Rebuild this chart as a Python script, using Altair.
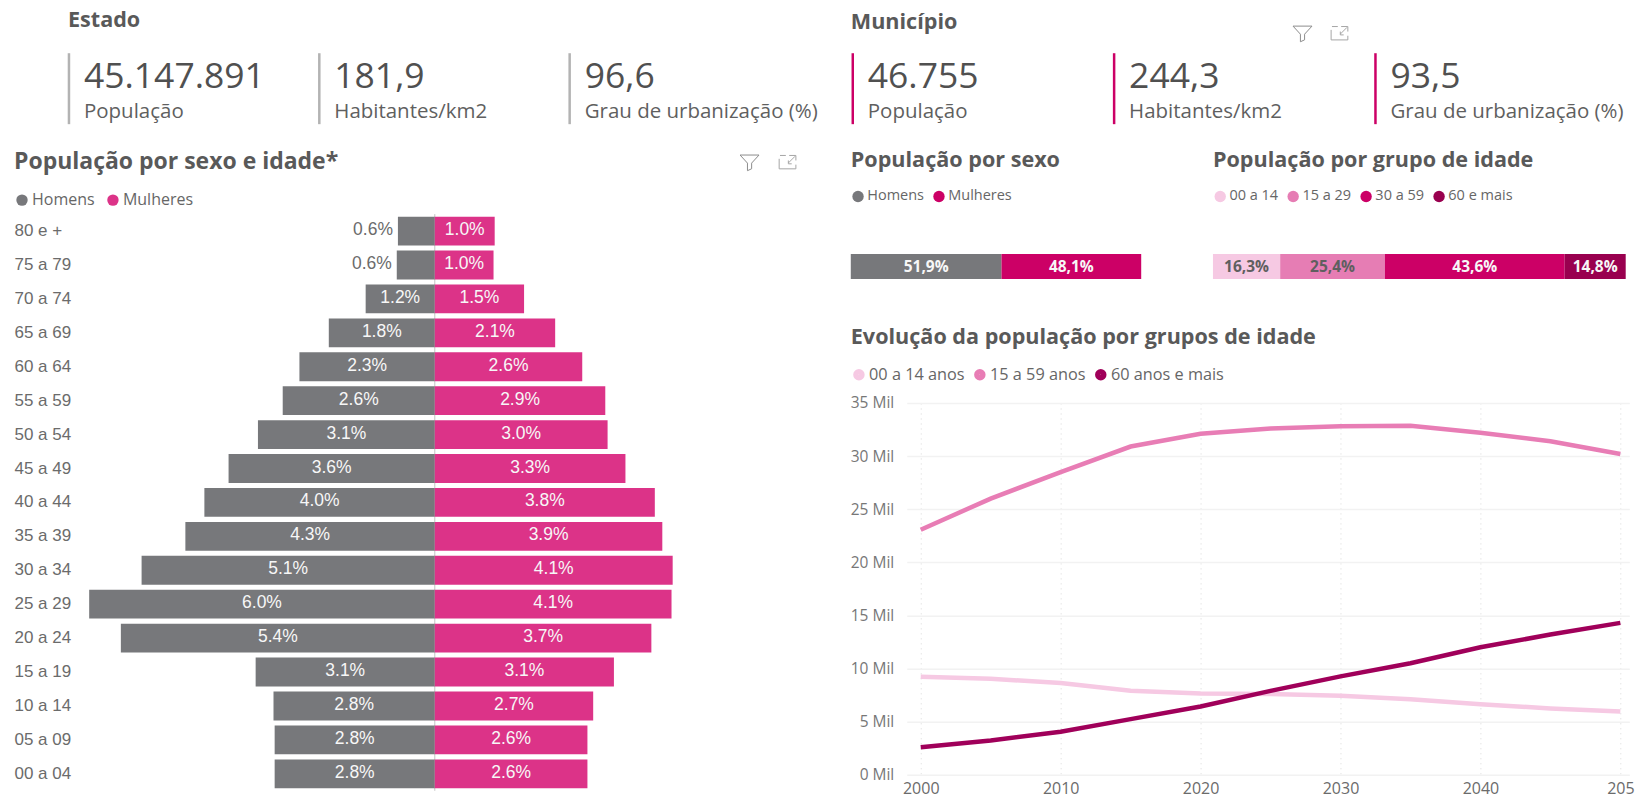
import altair as alt
import pandas as pd

FONT = "Open Sans"
ARIAL = "Liberation Sans"
TXT = "#595959"
GRAY = "#77787b"
PINK = "#dc3388"
MAG = "#cc0066"

est_rotulos = ["População", "Habitantes/km2", "Grau de urbanização (%)"]
est_valores = ["45.147.891", "181,9", "96,6"]
mun_valores = ["46.755", "244,3", "93,5"]

faixas = ["80 e +", "75 a 79", "70 a 74", "65 a 69", "60 a 64", "55 a 59", "50 a 54", "45 a 49", "40 a 44",
          "35 a 39", "30 a 34", "25 a 29", "20 a 24", "15 a 19", "10 a 14", "05 a 09", "00 a 04"]
homens = [0.64, 0.66, 1.20, 1.84, 2.35, 2.64, 3.07, 3.58, 4.00, 4.33, 5.09, 6.00, 5.45, 3.11, 2.80, 2.78, 2.78]
mulheres = [1.04, 1.02, 1.55, 2.09, 2.56, 2.96, 3.00, 3.31, 3.82, 3.95, 4.13, 4.11, 3.76, 3.11, 2.75, 2.65, 2.65]
homens_rot = ["0.6%", "0.6%", "1.2%", "1.8%", "2.3%", "2.6%", "3.1%", "3.6%", "4.0%", "4.3%", "5.1%", "6.0%", "5.4%", "3.1%", "2.8%", "2.8%", "2.8%"]
mulheres_rot = ["1.0%", "1.0%", "1.5%", "2.1%", "2.6%", "2.9%", "3.0%", "3.3%", "3.8%", "3.9%", "4.1%", "4.1%", "3.7%", "3.1%", "2.7%", "2.6%", "2.6%"]

sexo_grupos = ["Homens", "Mulheres"]
sexo_pct = [51.9, 48.1]
sexo_rot = ["51,9%", "48,1%"]
idade_grupos = ["00 a 14", "15 a 29", "30 a 59", "60 e mais"]
idade_pct = [16.3, 25.4, 43.6, 14.8]
idade_rot = ["16,3%", "25,4%", "43,6%", "14,8%"]

anos = [2000, 2005, 2010, 2015, 2020, 2025, 2030, 2035, 2040, 2045, 2050]
s_00_14 = [9.23, 9.04, 8.63, 7.90, 7.66, 7.60, 7.44, 7.12, 6.65, 6.25, 5.96]
s_15_59 = [23.07, 26.0, 28.5, 30.9, 32.1, 32.6, 32.8, 32.86, 32.2, 31.4, 30.2]
s_60 = [2.60, 3.23, 4.05, 5.24, 6.43, 7.90, 9.26, 10.5, 12.0, 13.2, 14.3]
serie_nomes = ["00 a 14 anos", "15 a 59 anos", "60 anos e mais"]


def section_title(text, dx=0, offset=10, size=21.6):
    return alt.TitleParams(text=text, anchor="start", frame="group", dx=dx, offset=offset, font=FONT,
                           fontSize=size, fontWeight="bold", color=TXT)


def legend(x, y, size=15, gap=8, **kw):
    opts = dict(symbolSize=130, symbolStrokeWidth=0)
    opts.update(kw)
    return alt.Legend(title=None, orient="none", legendX=x, legendY=y, direction="horizontal", symbolType="circle",
                      labelFont=FONT, labelFontSize=size, labelColor="#666666",
                      labelOffset=2, columnPadding=gap, padding=0, symbolOpacity=1, **opts)


def kpi(valores, cor, titulo, inicio, fim, largura, tdx, offset):
    df = pd.DataFrame({"rotulo": est_rotulos, "valor": valores})
    base = alt.Chart(df).encode(
        x=alt.X("rotulo:N", sort=None, axis=None,
                scale=alt.Scale(type="point", domain=est_rotulos, range=[inicio, fim], padding=0)))
    rule = base.mark_rule(color=cor, strokeWidth=2.5).encode(y=alt.value(0), y2=alt.value(71))
    val = base.mark_text(align="left", baseline="middle", dx=15, font=FONT, fontSize=35.5, color="#505050").encode(
        y=alt.value(24), text="valor:N")
    lab = base.mark_text(align="left", baseline="middle", dx=15, font=FONT, fontSize=20.5, color="#5f5f5f").encode(
        y=alt.value(59), text="rotulo:N")
    return alt.layer(rule, val, lab).properties(width=largura, height=71, title=section_title(titulo, dx=tdx, offset=offset))


FUNIL = "M-1,-0.75 L1,-0.75 L0.22,0.1 L0.22,0.7 L-0.22,0.9 L-0.22,0.1 Z"
EXPANDE = "M-1,-0.4 L-1,0.8 L1,0.8 L1,0.3 M-0.9,-0.8 L-0.2,-0.8 M0.2,-0.8 L1,-0.8 L1,-0.2 M0.9,-0.7 L0.1,0.1 M0.1,-0.2 L0.1,0.2 L0.5,0.2"


def icons(x1, x2, y):
    d = pd.DataFrame({"k": [0]})
    a = alt.Chart(d).mark_point(shape=FUNIL, filled=False, size=360, color="#8c8c8c", strokeWidth=1, opacity=1).encode(
        x=alt.value(x1), y=alt.value(y))
    b = alt.Chart(d).mark_point(shape=EXPANDE, filled=False, size=280, color="#a6a6a6", strokeWidth=1, opacity=1).encode(
        x=alt.value(x2), y=alt.value(y))
    return [a, b]


# Pyramid
pir = pd.DataFrame({
    "faixa": faixas * 2,
    "sexo": ["Homens"] * 17 + ["Mulheres"] * 17,
    "valor": [-v for v in homens] + mulheres,
    "rotulo": homens_rot + mulheres_rot,
})
pir["meio"] = pir["valor"] / 2
xs = alt.Scale(domain=[-6.351, 4.25], nice=False, zero=False)
ys = alt.Y("faixa:N", sort=faixas, title=None,
           scale=alt.Scale(paddingInner=0.15, paddingOuter=0.075),
           axis=alt.Axis(domain=False, ticks=False, grid=False, labelAlign="left", labelPadding=55, labelFont=ARIAL,
                         labelFontSize=17, labelColor="#6b6b6b"))
pir_base = alt.Chart(pir).encode(y=ys)
pir_rule = alt.Chart(pd.DataFrame({"z": [0]})).mark_rule(color="#c4c4c4", strokeWidth=1).encode(x=alt.X("z:Q", scale=xs, axis=None))
pir_bar = pir_base.mark_bar(stroke="white", strokeWidth=0).encode(
    x=alt.X("valor:Q", scale=xs, axis=None, stack=None),
    x2=alt.datum(0),
    color=alt.Color("sexo:N", scale=alt.Scale(domain=sexo_grupos, range=[GRAY, PINK]), legend=legend(-55, -22, 16, 10)),
)
pir_in = pir_base.transform_filter("abs(datum.valor) >= 0.7").mark_text(font=ARIAL, fontSize=17.5, color="#f7f7f7", dy=-1).encode(
    x=alt.X("meio:Q", scale=xs, axis=None), text="rotulo:N")
pir_out = pir_base.transform_filter("abs(datum.valor) < 0.7").mark_text(font=ARIAL, fontSize=17.5, color="#6b6b6b", align="right", dx=-5, dy=-1).encode(
    x=alt.X("valor:Q", scale=xs, axis=None), text="rotulo:N")
piramide = alt.layer(pir_rule, pir_bar, pir_in, pir_out, *icons(681, 719, -52)).properties(
    width=611, height=577, title=section_title("População por sexo e idade*", dx=-55, offset=-20.5, size=23))


def barra(grupos, pct, rotulos, cores, escuros, largura, titulo, leg):
    df = pd.DataFrame({"grupo": grupos, "pct": pct, "rot": rotulos, "ordem": list(range(len(grupos))),
                       "escuro": [g in escuros for g in grupos]})
    total = sum(pct)
    base = alt.Chart(df).transform_stack(stack="pct", as_=["p0", "p1"], groupby=[], sort=[alt.SortField("ordem")]).transform_calculate(
        mid="(datum.p0 + datum.p1) / 2")
    sx = alt.Scale(domain=[0, total], nice=False)
    bar = base.mark_bar(size=25).encode(
        x=alt.X("p0:Q", scale=sx, axis=None), x2="p1:Q",
        color=alt.Color("grupo:N", scale=alt.Scale(domain=grupos, range=cores), legend=leg))
    txt = base.mark_text(font=FONT, fontSize=15.5, fontWeight="bold").encode(
        x=alt.X("mid:Q", scale=sx, axis=None), text="rot:N",
        color=alt.condition("datum.escuro", alt.value("#5f5f5f"), alt.value("#f7f7f7")))
    return alt.layer(bar, txt).properties(width=largura, height=25, title=section_title(titulo, offset=18))


b_sexo = barra(sexo_grupos, sexo_pct, sexo_rot, [GRAY, MAG], [], 290.6, "População por sexo", legend(0, -65, 14.5, 7))
b_idade = barra(idade_grupos, idade_pct, idade_rot, ["#f6c9e3", "#e67db4", MAG, "#99004f"], ["00 a 14", "15 a 29"], 413,
                "População por grupo de idade", legend(0, -65, 14.5, 7))

# Lines
lin = pd.DataFrame({
    "ano": anos * 3,
    "serie": [serie_nomes[0]] * 11 + [serie_nomes[1]] * 11 + [serie_nomes[2]] * 11,
    "mil": s_00_14 + s_15_59 + s_60,
})
linhas = alt.Chart(lin).mark_line(strokeWidth=4.5).encode(
    x=alt.X("ano:Q", title=None, scale=alt.Scale(domain=[1999, 2050.64], nice=False, zero=False),
            axis=alt.Axis(values=[2000, 2010, 2020, 2030, 2040, 2050], format="d", ticks=False, domain=False, grid=True,
                          gridDash=[1, 4], gridColor="#d9d9d9", labelFont=FONT, labelFontSize=16, labelColor="#6b6b6b",
                          labelPadding=6, labelFlush=False, labelOverlap=False,
                          labelExpr="datum.value == 2050 ? '205\u2007' : datum.label")),
    y=alt.Y("mil:Q", title=None, scale=alt.Scale(domain=[0, 35], nice=False),
            axis=alt.Axis(values=[0, 5, 10, 15, 20, 25, 30, 35], ticks=False, domain=False, grid=True, gridColor="#f2f2f2",
                          gridWidth=1.5, labelFont=FONT, labelFontSize=15.5, labelColor="#777777", labelPadding=13,
                          labelExpr="datum.value + ' Mil'")),
    color=alt.Color("serie:N", scale=alt.Scale(domain=serie_nomes, range=["#f6c9e3", "#e87db5", "#a0005a"]),
                    legend=legend(-56, -36.5, 16.3, 0, symbolSize=30, symbolStrokeWidth=6)),
).properties(width=723, height=372, title=section_title("Evolução da população por grupos de idade", dx=-56, offset=17.5))

espaco = alt.Chart(pd.DataFrame({"a": [0]})).mark_point(opacity=0, size=1).encode(x=alt.value(0), y=alt.value(0)).properties(width=56, height=0.01)
espaco_v = alt.Chart(pd.DataFrame({"a": [0]})).mark_point(opacity=0, size=1).encode(x=alt.value(0), y=alt.value(0)).properties(width=1, height=0.01)

k_est = kpi(est_valores, "#b3b3b3", "Estado", 0, 501, 501, -1, 20)
k_mun = alt.layer(kpi(mun_valores, MAG, "Município", 2, 525, 527, 0, -9), *icons(452, 489, -20))

esq = alt.vconcat(k_est, piramide, spacing=24).resolve_scale(color="independent")
linha2 = alt.hconcat(b_sexo, b_idade, spacing=71.4, bounds="flush").resolve_scale(color="independent")
linha3 = alt.hconcat(espaco, linhas, spacing=0, bounds="flush").resolve_scale(color="independent")
dir_ = alt.vconcat(k_mun, linha2, espaco_v, linha3, spacing=23).resolve_scale(color="independent")

chart = alt.hconcat(esq, dir_, spacing=31.3).resolve_scale(color="independent").properties(
    padding={"left": 6, "top": 2, "right": 0, "bottom": 0}, background="white"
).configure_view(stroke=None)

chart.save("out.html", embed_options={"renderer": "svg", "actions": False})
